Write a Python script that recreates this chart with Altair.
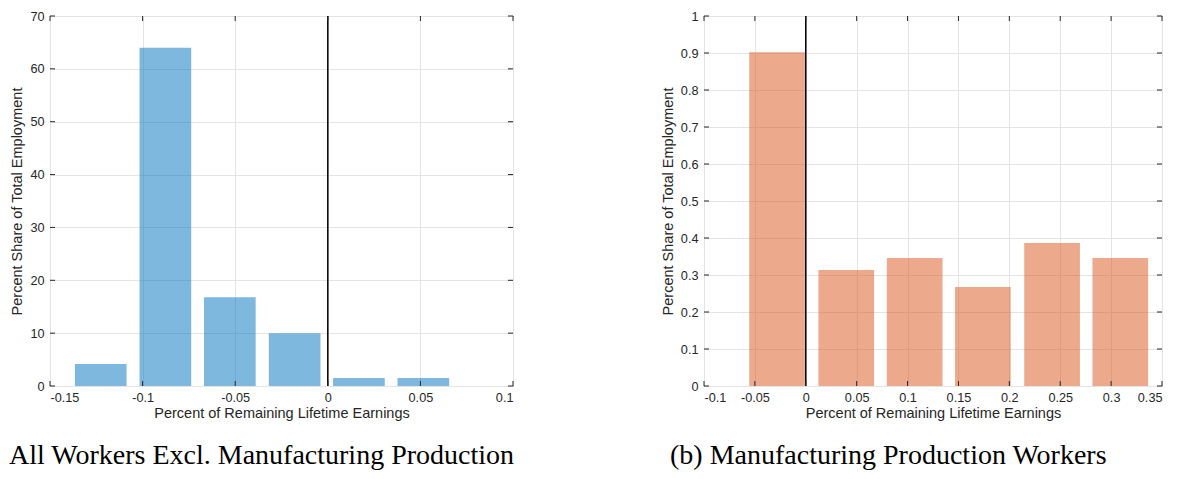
import altair as alt
import pandas as pd

# ---------------- data ----------------
left_centers = [-0.1226, -0.0877, -0.0529, -0.0179, 0.0168, 0.0516]
left_shares = [4.15, 64.0, 16.8, 10.0, 1.5, 1.5]
left_bar_width = 0.0279
left_xticks = [-0.15, -0.1, -0.05, 0, 0.05, 0.1]
left_yticks = [0, 10, 20, 30, 40, 50, 60, 70]

right_centers = [-0.0282, 0.0398, 0.107, 0.174, 0.242, 0.309]
right_shares = [0.902, 0.3135, 0.346, 0.2676, 0.3865, 0.346]
right_bar_width = 0.0547
right_xticks = [-0.1, -0.05, 0, 0.05, 0.1, 0.15, 0.2, 0.25, 0.3, 0.35]
right_yticks = [0, 0.1, 0.2, 0.3, 0.4, 0.5, 0.6, 0.7, 0.8, 0.9, 1]

x_title = "Percent of Remaining Lifetime Earnings"
y_title = "Percent Share of Total Employment"
captions = ["All Workers Excl. Manufacturing Production",
            "(b) Manufacturing Production Workers"]

FRAME = "#262626"
TICK = 5


def panel(centers, shares, bw, xticks, yticks, color, W, H, caption, cap_dx):
    bars = pd.DataFrame({
        "lo": [c - bw / 2 for c in centers],
        "hi": [c + bw / 2 for c in centers],
        "share": shares,
    })
    xs = alt.Scale(domain=[xticks[0], xticks[-1]], nice=False, zero=False)
    ys = alt.Scale(domain=[yticks[0], yticks[-1]], nice=False, zero=False)
    xaxis = alt.Axis(title=x_title, values=xticks, labelExpr="toString(datum.value)")
    yaxis = alt.Axis(title=y_title, values=yticks, labelExpr="toString(datum.value)")

    def X(f):
        return alt.X(f, type="quantitative", scale=xs, axis=xaxis)

    def Y(f):
        return alt.Y(f, type="quantitative", scale=ys, axis=yaxis)

    bar = alt.Chart(bars).mark_bar(color=color, opacity=0.5).encode(
        x=X("lo"), x2="hi", y=Y("share"), y2=alt.datum(0))
    zero = alt.Chart(pd.DataFrame({"lo": [0]})).mark_rule(
        color="black", strokeWidth=1.5).encode(x=X("lo"))
    xt = pd.DataFrame({"lo": xticks})
    yt = pd.DataFrame({"share": yticks})
    tb = alt.Chart(xt).mark_rule(color=FRAME, strokeWidth=1).encode(
        x=X("lo"), y=alt.value(H), y2=alt.value(H - TICK))
    tt = alt.Chart(xt).mark_rule(color=FRAME, strokeWidth=1).encode(
        x=X("lo"), y=alt.value(0), y2=alt.value(TICK))
    tl = alt.Chart(yt).mark_rule(color=FRAME, strokeWidth=1).encode(
        y=Y("share"), x=alt.value(0), x2=alt.value(TICK))
    tr = alt.Chart(yt).mark_rule(color=FRAME, strokeWidth=1).encode(
        y=Y("share"), x=alt.value(W), x2=alt.value(W - TICK))
    return alt.layer(bar, zero, tb, tt, tl, tr).properties(
        width=W, height=H,
        title=alt.TitleParams(caption, orient="bottom", anchor="start", frame="group",
                              dx=cap_dx, offset=22, font="Liberation Serif",
                              fontSize=28, fontWeight="normal", color="black"))


left = panel(left_centers, left_shares, left_bar_width, left_xticks, left_yticks,
             "#0072BD", 463, 370, captions[0], -41)
right = panel(right_centers, right_shares, right_bar_width, right_xticks, right_yticks,
              "#D95319", 458, 370, captions[1], -34)

chart = alt.hconcat(left, right, spacing=191, bounds="flush").properties(
    padding={"left": 0, "top": 1, "right": 0, "bottom": -1}
).configure_view(
    stroke=FRAME, strokeWidth=1
).configure_axis(
    domain=False, ticks=False, grid=True, gridColor="#e4e4e4", gridWidth=1,
    labelFont="Liberation Sans", labelFontSize=12.7, labelColor=FRAME,
    titleFont="Liberation Sans", titleFontSize=14.5, titleColor=FRAME,
    titleFontWeight="normal"
).configure_axisX(
    labelPadding=5, titlePadding=3
).configure_axisY(
    labelPadding=6, titlePadding=5
)

chart.save("out.html", embed_options={"renderer": "svg", "actions": False})
